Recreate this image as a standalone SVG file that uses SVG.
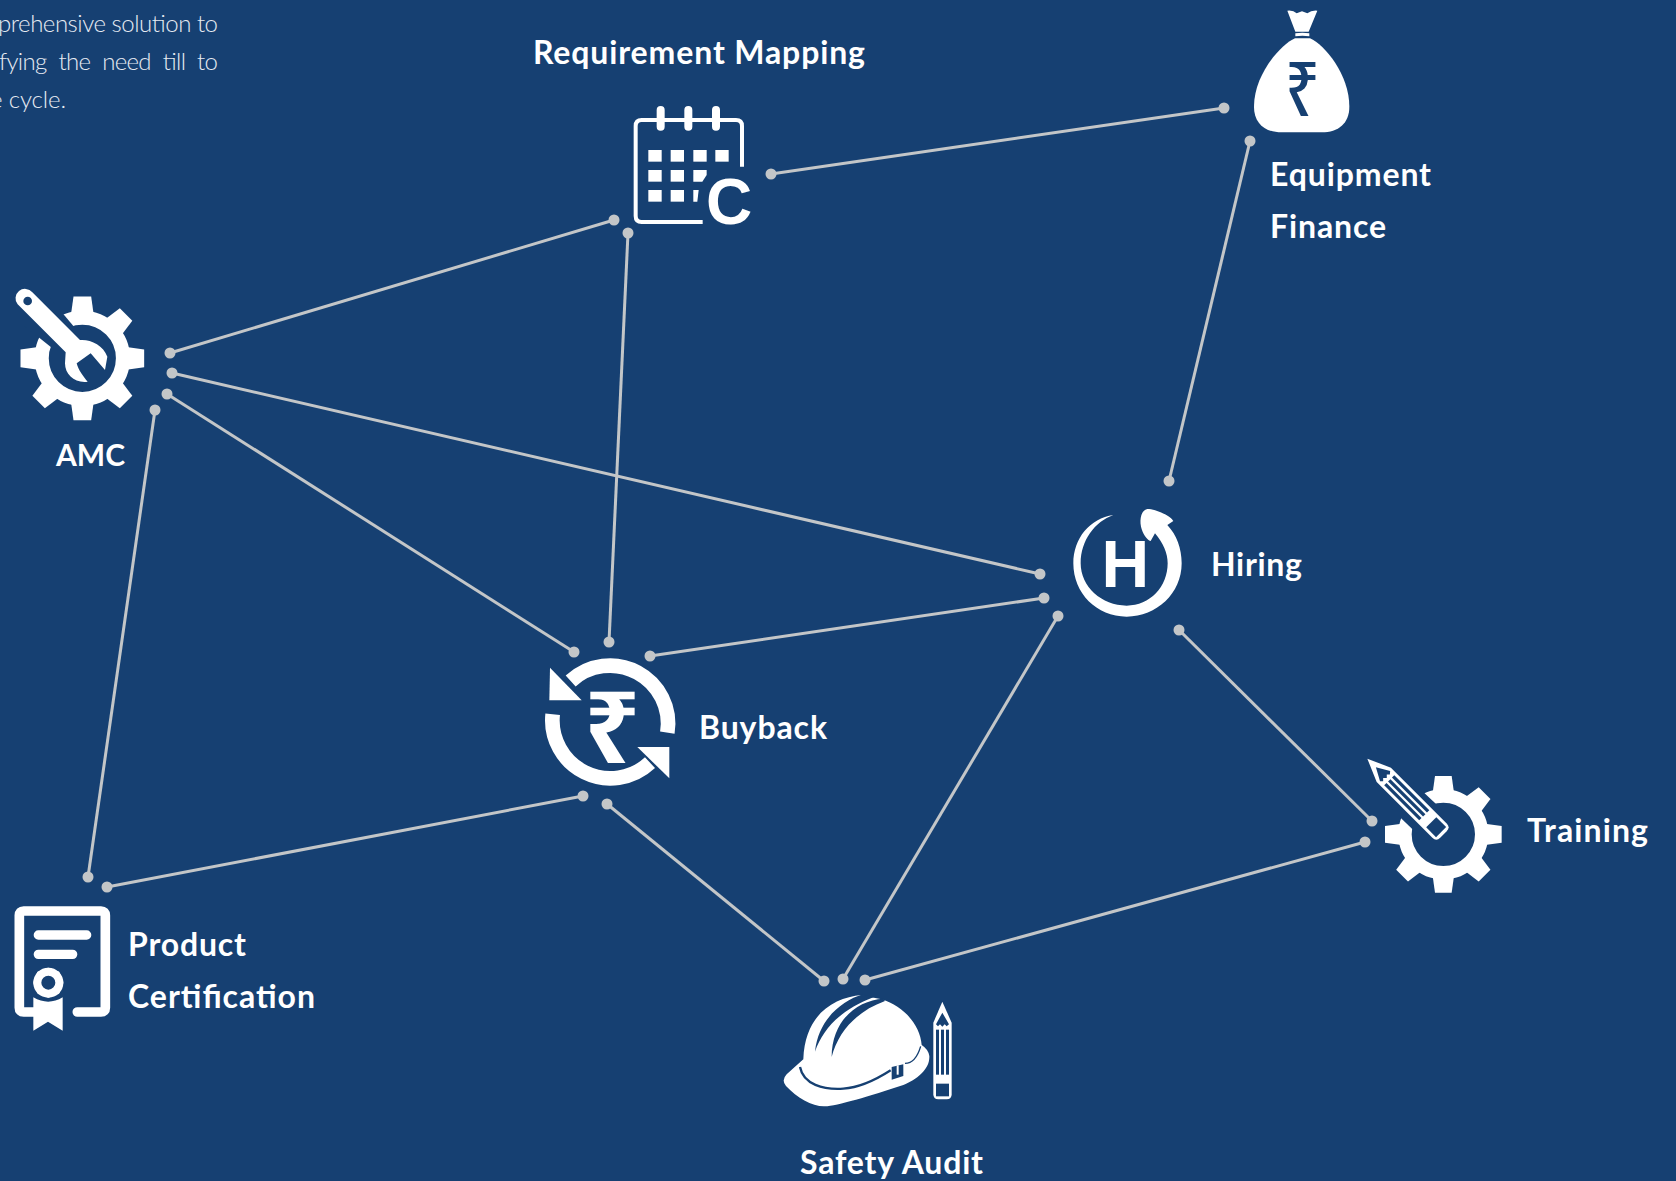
<svg xmlns="http://www.w3.org/2000/svg" width="1676" height="1181" viewBox="0 0 1676 1181">
<style>
.l{font-family:"Lato","Noto Sans",sans-serif;font-weight:700;font-size:32px;fill:#fff}
.b{font-family:"Lato","Noto Sans",sans-serif;font-weight:300;font-size:24px;fill:#e6ebf2}
.c line{stroke:#c3c6c8;stroke-width:3}
.c circle{fill:#c3c6c8}
.w{fill:#fff}.k{fill:#164072}
.ic{font-family:"Liberation Sans",Arial,sans-serif;font-weight:700;fill:#fff}
.ru{font-family:"Noto Sans",sans-serif}
</style>
<defs>
<g id="gear"><circle r="115" fill="none" stroke="#fff" stroke-width="40"/>
<g id="t"><polygon class="w" points="-25,-175 25,-175 32,-125 -32,-125"/></g>
<use href="#t" transform="rotate(45)"/><use href="#t" transform="rotate(90)"/><use href="#t" transform="rotate(135)"/><use href="#t" transform="rotate(180)"/><use href="#t" transform="rotate(225)"/><use href="#t" transform="rotate(270)"/><use href="#t" transform="rotate(315)"/></g>
<g id="pencil"><path class="w" d="M517,62L545,125V340Q545,355 530,355H505Q490,355 490,340V125Z"/>
<polygon class="k" points="498,130 517,95 537,130 530,136 524,130 517,137 510,130 504,136"/>
<rect class="k" x="498" y="146" width="9" height="135"/><rect class="k" x="513" y="146" width="9" height="135"/><rect class="k" x="528" y="146" width="9" height="135"/>
<rect class="k" x="498" y="308" width="39" height="38"/></g>
</defs>
<rect width="1676" height="1181" fill="#164072"/>
<g id="intro">
<text class="b" x="-2" y="32" textLength="220">prehensive solution to</text>
<text class="b" x="-1" y="70" textLength="219" style="word-spacing:6px">fying the need till to</text>
<text class="b" x="-10" y="108" textLength="76">e cycle.</text>
</g>
<g id="connectors" class="c">
<line x1="771" y1="174" x2="1224" y2="108"/><circle cx="771" cy="174" r="5.5"/><circle cx="1224" cy="108" r="5.5"/>
<line x1="1250" y1="141" x2="1169" y2="481"/><circle cx="1250" cy="141" r="5.5"/><circle cx="1169" cy="481" r="5.5"/>
<line x1="170" y1="353" x2="614" y2="220"/><circle cx="170" cy="353" r="5.5"/><circle cx="614" cy="220" r="5.5"/>
<line x1="628" y1="233" x2="609" y2="642"/><circle cx="628" cy="233" r="5.5"/><circle cx="609" cy="642" r="5.5"/>
<line x1="172" y1="373" x2="1040" y2="574"/><circle cx="172" cy="373" r="5.5"/><circle cx="1040" cy="574" r="5.5"/>
<line x1="167" y1="394" x2="574" y2="652"/><circle cx="167" cy="394" r="5.5"/><circle cx="574" cy="652" r="5.5"/>
<line x1="155" y1="410" x2="88" y2="877"/><circle cx="155" cy="410" r="5.5"/><circle cx="88" cy="877" r="5.5"/>
<line x1="107" y1="887" x2="583" y2="796"/><circle cx="107" cy="887" r="5.5"/><circle cx="583" cy="796" r="5.5"/>
<line x1="650" y1="656" x2="1044" y2="598"/><circle cx="650" cy="656" r="5.5"/><circle cx="1044" cy="598" r="5.5"/>
<line x1="607" y1="804" x2="824" y2="981"/><circle cx="607" cy="804" r="5.5"/><circle cx="824" cy="981" r="5.5"/>
<line x1="1058" y1="616" x2="843" y2="979"/><circle cx="1058" cy="616" r="5.5"/><circle cx="843" cy="979" r="5.5"/>
<line x1="865" y1="980" x2="1365" y2="842"/><circle cx="865" cy="980" r="5.5"/><circle cx="1365" cy="842" r="5.5"/>
<line x1="1179" y1="630" x2="1372" y2="821"/><circle cx="1179" cy="630" r="5.5"/><circle cx="1372" cy="821" r="5.5"/>
</g>
<g id="requirement-mapping">
<g transform="translate(610,90) scale(.33333)">
<path d="M396,230V108Q396,90 378,90H95Q77,90 77,108V378Q77,396 95,396H278" fill="none" stroke="#fff" stroke-width="12"/>
<g fill="none" stroke="#fff" stroke-width="24" stroke-linecap="round"><path d="M152,60V110M235,60V110M318,60V110"/></g>
<g class="w"><rect x="115" y="180" width="40" height="35"/><rect x="182" y="180" width="40" height="35"/><rect x="250" y="180" width="40" height="35"/><rect x="316" y="180" width="40" height="35"/>
<rect x="115" y="240" width="40" height="35"/><rect x="182" y="240" width="40" height="35"/><polygon points="250,240 290,240 290,255 277,275 250,275"/>
<rect x="115" y="300" width="40" height="35"/><rect x="182" y="300" width="40" height="35"/><polygon points="250,300 266,300 262,335 250,335"/></g>
</g>
<text class="ic" x="706" y="224" font-size="64">C</text>
<text class="l" x="533" y="64" textLength="332">Requirement Mapping</text>
</g>
<g id="equipment-finance">
<g transform="translate(1230,0) scale(.33333)">
<path class="w" d="M195,115H240C285,135 358,225 358,320C358,370 325,397 275,397H155C105,397 72,370 72,320C72,225 150,135 195,115Z"/>
<path class="w" d="M172,32Q190,30 200,40L216,34L232,40Q245,30 262,32L236,95H196Z"/>
<path class="w" d="M196,100Q217,96 238,100V109Q217,105 196,109Z"/>
</g>
<text class="ru k" transform="translate(1285,116) scale(.8,1)" font-size="76" font-weight="500">₹</text>
<text class="l" x="1270" y="186" textLength="161">Equipment</text>
<text class="l" x="1270" y="238" textLength="116">Finance</text>
</g>
<g id="amc">
<g transform="translate(0,275) scale(.33333)">
<use href="#gear" transform="translate(247,250) scale(1.06)"/>
<polygon class="k" points="150,70 222,155 160,222 70,150"/>
<path class="w" d="M97,52L240,195C270,192 310,210 322,245L315,285L272,235L230,265C235,285 250,305 263,320C225,325 195,300 195,265L197,232L53,88A28,28 0 0 1 97,52Z"/>
<circle class="k" cx="83" cy="78" r="13"/>
</g>
<text class="l" x="56" y="466" style="font-size:30px">AMC</text>
</g>
<g id="buyback">
<g transform="translate(530,641) scale(.33333)">
<g fill="none" stroke="#fff" stroke-width="44"><path d="M412,275A174,174 0 0 0 122,120"/><path d="M68,220A174,174 0 0 0 360,365"/></g>
<polygon class="w" points="60,80 155,178 58,178"/><polygon class="w" points="418,318 322,318 418,412"/>
</g>
<text class="ru w" transform="translate(584,763) scale(.98,1)" font-size="100" font-weight="700">₹</text>
<text class="l" x="699" y="739" textLength="128">Buyback</text>
</g>
<g id="hiring">
<g transform="translate(1060,495) scale(.33333)">
<path class="w" d="M160,60C90,70 40,130 40,205C40,295 110,365 200,365C290,365 365,295 365,205C365,160 350,120 322,90L340,78C335,65 290,42 262,42C245,45 238,70 243,95C248,115 260,135 272,138L285,115C310,145 323,175 323,205C323,275 270,332 200,332C125,332 62,275 62,205C62,135 105,80 160,60Z"/>
</g>
<text class="ic" x="1101.5" y="587" font-size="66">H</text>
<text class="l" x="1211" y="576" textLength="91">Hiring</text>
</g>
<g id="training">
<g transform="translate(1350,746) scale(.33333)">
<use href="#gear" transform="translate(280,265)"/>
<polygon class="k" points="190,110 275,190 200,262 115,180"/>
<use href="#pencil" transform="translate(52,38) rotate(-45) scale(1.1) translate(-517,-62)"/>
</g>
<text class="l" x="1527" y="842" textLength="121">Training</text>
</g>
<g id="product-certification">
<g transform="translate(0,890) scale(.33333)">
<path d="M232,366H303Q316,366 316,353V76Q316,63 303,63H71Q58,63 58,76V353Q58,366 71,366H105" fill="none" stroke="#fff" stroke-width="29" stroke-linecap="round"/>
<path d="M115,135H260M115,193H218" fill="none" stroke="#fff" stroke-width="28" stroke-linecap="round"/>
<circle cx="145" cy="278" r="33" fill="none" stroke="#fff" stroke-width="24"/>
<g class="w"><circle cx="145" cy="243" r="10"/><circle cx="170" cy="253" r="10"/><circle cx="180" cy="278" r="10"/><circle cx="170" cy="303" r="10"/><circle cx="145" cy="313" r="10"/><circle cx="120" cy="303" r="10"/><circle cx="110" cy="278" r="10"/><circle cx="120" cy="253" r="10"/></g>
<path class="w" d="M100,322Q145,348 188,322V422L144,395L100,422Z"/>
</g>
<text class="l" x="128" y="956" textLength="118">Product</text>
<text class="l" x="128" y="1008" textLength="187">Certification</text>
</g>
<g id="safety-audit">
<g transform="translate(770,981) scale(.33333)">
<path class="w" d="M275,42C190,50 105,100 100,235L50,280Q33,298 48,315C80,350 130,378 165,376C200,375 300,345 400,312C440,295 480,265 478,225Q475,205 455,192C450,130 400,75 335,55L300,48Z"/>
<path class="k" d="M278,40C215,60 145,115 135,212C160,140 215,85 312,48Z"/>
<path class="k" d="M340,53C260,58 185,120 185,228C205,150 262,90 345,60Z"/>
<path d="M90,258C100,310 160,327 220,323C270,320 320,295 362,268" fill="none" stroke="#164072" stroke-width="7"/>
<path d="M405,247C425,247 442,230 452,196" fill="none" stroke="#164072" stroke-width="4"/>
<polygon class="k" points="365,258 400,250 400,285 365,296"/>
<rect class="w" x="380" y="253" width="6" height="28"/>
<use href="#pencil"/>
</g>
<text class="l" x="800" y="1174" textLength="183">Safety Audit</text>
</g>
</svg>
